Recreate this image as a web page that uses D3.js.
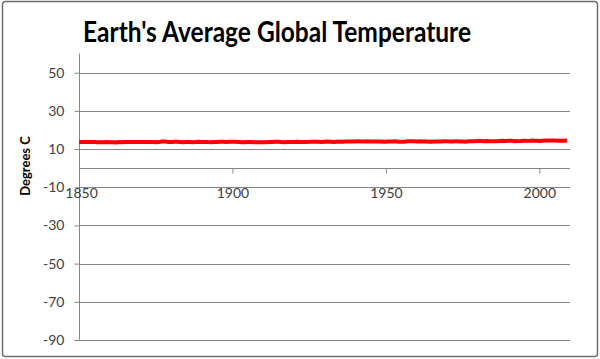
<!DOCTYPE html>
<html>
<head>
<meta charset="utf-8">
<script src="https://cdn.jsdelivr.net/npm/d3@7"></script>
<style>
  html, body { margin: 0; padding: 0; background: #fff; }
  svg { display: block; }
</style>
</head>
<body>
<svg id="chart" width="600" height="359"></svg>
<script>
// ---- data ----
const years = d3.range(1850, 2010);
const temps = [
  13.56,13.70,13.70,13.67,13.71,13.71,13.60,13.53,13.59,13.71,
  13.63,13.58,13.46,13.69,13.53,13.70,13.73,13.70,13.72,13.72,
  13.72,13.68,13.76,13.71,13.68,13.61,13.65,13.93,14.03,13.75,
  13.76,13.82,13.78,13.73,13.62,13.66,13.67,13.63,13.70,13.85,
  13.65,13.69,13.64,13.63,13.67,13.69,13.86,13.87,13.72,13.83,
  13.89,13.82,13.71,13.62,13.56,13.71,13.75,13.59,13.57,13.56,
  13.57,13.55,13.64,13.65,13.81,13.87,13.68,13.57,13.70,13.73,
  13.74,13.81,13.71,13.73,13.73,13.78,13.89,13.80,13.81,13.66,
  13.85,13.90,13.87,13.73,13.87,13.81,13.86,13.98,14.00,13.98,
  14.02,14.03,14.02,14.01,14.14,14.02,13.92,13.92,13.90,13.89,
  13.82,13.93,14.01,14.08,13.88,13.86,13.80,14.04,14.06,14.03,
  13.97,14.05,14.02,14.04,13.78,13.89,13.94,13.98,13.93,14.05,
  14.03,13.91,14.01,14.16,13.93,13.98,13.88,14.15,14.06,14.10,
  14.18,14.25,14.07,14.26,14.09,14.06,14.13,14.27,14.30,14.19,
  14.36,14.35,14.13,14.16,14.23,14.38,14.29,14.39,14.53,14.30,
  14.28,14.41,14.46,14.47,14.45,14.48,14.42,14.40,14.33,14.44
];
const yTicks = [-90, -70, -50, -30, -10, 10, 30, 50];
const xTicks = [1850, 1900, 1950, 2000];
const chartTitle = "Earth's Average Global Temperature";
const yTitle = "Degrees C";

// ---- layout ----
const svg = d3.select("#chart");
const pLeft = 79, pRight = 570, pTop = 53.6, pBottom = 340;
const x = d3.scaleLinear().domain([1850, 2010]).range([pLeft, pRight]);
const y = d3.scaleLinear().domain([-90, 60]).range([pBottom, pTop]);
const font = "Lato, 'Open Sans', sans-serif";

// outer frame
svg.append("rect").attr("x", 2.5).attr("y", 1.5).attr("width", 595).attr("height", 355)
  .attr("rx", 3).attr("fill", "#fff").attr("stroke", "#6f6f6f").attr("stroke-width", 1.5);

// title
svg.append("text").attr("x", 277).attr("y", 42).attr("text-anchor", "middle")
  .attr("font-family", font).attr("font-weight", "bold").attr("font-size", 28)
  .attr("textLength", 388).attr("lengthAdjust", "spacingAndGlyphs")
  .attr("fill", "#000").text(chartTitle);

// gridlines
svg.append("g").selectAll("line").data(yTicks).join("line")
  .attr("x1", pLeft).attr("x2", pRight)
  .attr("y1", d => Math.round(y(d)) + 0.5).attr("y2", d => Math.round(y(d)) + 0.5)
  .attr("stroke", "#868686").attr("stroke-width", 1);

// y axis
const yAxis = d3.axisLeft(y).tickValues(yTicks).tickSize(5).tickPadding(10).tickFormat(d => String(d));
const gy = svg.append("g").attr("transform", `translate(${pLeft + 0.5},0)`).call(yAxis);
gy.select(".domain").attr("stroke", "#868686").attr("d", `M0,${pTop}V${pBottom}`);
gy.selectAll(".tick line").attr("stroke", "#868686");
gy.selectAll(".tick text").attr("font-family", font).attr("font-size", 14).attr("fill", "#404040");

// x axis at y=0
const xAxis = d3.axisBottom(x).tickValues(xTicks).tickSize(5).tickPadding(15).tickFormat(d => String(d));
const gx = svg.append("g").attr("transform", `translate(0,${Math.round(y(0)) + 0.5})`).call(xAxis);
gx.select(".domain").attr("stroke", "#868686").attr("d", `M${pLeft},0H${pRight}`);
gx.selectAll(".tick line").attr("stroke", "#868686");
gx.selectAll(".tick text").attr("font-family", font).attr("font-size", 14).attr("fill", "#404040");
// nudge first label slightly right, as in the reference
gx.selectAll(".tick text").filter(d => d === 1850).attr("dx", 2);

// y title
svg.append("text").attr("transform", `translate(30,166) rotate(-90)`).attr("text-anchor", "middle")
  .attr("font-family", font).attr("font-weight", "bold").attr("font-size", 13)
  .attr("fill", "#000").text(yTitle);

// line
const line = d3.line().x((d, i) => x(years[i])).y(d => y(d));
svg.append("path").datum(temps).attr("d", line).attr("fill", "none")
  .attr("stroke", "#ff0000").attr("stroke-width", 4).attr("stroke-linejoin", "round");
</script>
</body>
</html>
